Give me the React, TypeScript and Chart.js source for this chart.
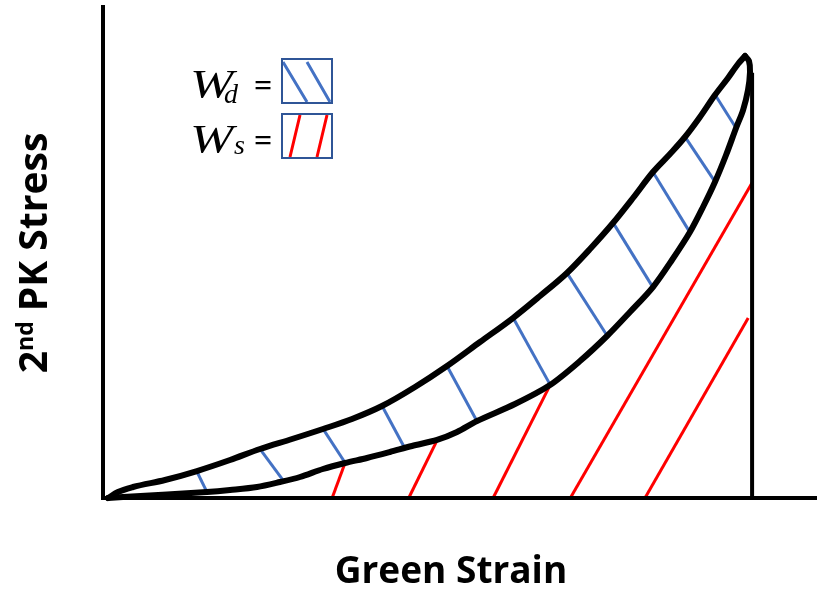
import React, { useEffect, useRef } from "react";
import { Chart, registerables } from "chart.js";

Chart.register(...registerables);

// Strain (x, relative to max strain = 100) and stress (y) values
const loadingStrain = [0.77, 2.31, 4.62, 9.55, 14.48, 19.57, 24.19, 29.12, 33.89, 38.36, 42.98, 48.07, 53.0, 58.08, 63.16, 67.32, 71.48, 75.03, 78.57, 81.65, 84.73, 87.35, 89.66, 91.97, 94.28, 96.29, 97.83, 98.91];
const loadingStress = [0, 1.36, 2.5, 4.09, 6.13, 8.63, 11.13, 13.4, 15.68, 17.95, 20.9, 25.22, 29.99, 35.44, 40.89, 45.89, 51.12, 56.57, 62.47, 68.15, 74.06, 78.15, 82.01, 86.56, 91.55, 95.42, 98.6, 100.41];

const unloadingStrain = [98.91, 99.52, 99.68, 99.37, 98.61, 97.53, 95.99, 94.28, 92.44, 90.43, 87.66, 84.73, 81.19, 77.65, 73.49, 68.87, 63.47, 57.62, 54.54, 51.46, 47.6, 44.22, 40.67, 37.28, 33.89, 30.35, 27.27, 23.73, 19.57, 16.02, 9.86, 3.08, 0.77];
const unloadingStress = [100.41, 99.28, 96.78, 92.69, 88.14, 84.06, 77.92, 71.79, 66.11, 60.43, 54.07, 47.93, 42.26, 36.8, 31.12, 25.67, 21.35, 17.49, 14.99, 13.18, 11.81, 10.45, 9.09, 7.95, 6.59, 4.77, 3.63, 2.5, 1.82, 1.36, 0.8, 0.23, 0];

// Dissipated-energy hatch segments (x1, y1, x2, y2)
const dissipatedHatch = [
  [14.5, 5.9, 16.0, 1.4],
  [24.2, 11.1, 27.7, 4.1],
  [33.9, 15.7, 37.3, 8.0],
  [43.0, 20.9, 46.5, 11.3],
  [53.0, 30.0, 57.6, 17.5],
  [63.2, 40.9, 68.9, 25.7],
  [71.5, 51.1, 77.7, 36.8],
  [78.6, 62.5, 84.7, 47.9],
  [84.7, 74.1, 90.4, 60.4],
  [89.7, 82.0, 94.3, 71.8],
  [94.3, 91.6, 97.5, 84.1],
];

// Stored-energy hatch segments (x1, y1, x2, y2)
const storedHatch = [
  [37.3, 8.0, 35.3, 0],
  [51.5, 13.2, 47.1, 0],
  [68.9, 25.7, 60.1, 0],
  [100, 71.6, 72.0, 0],
  [99.4, 40.9, 83.5, 0],
];

const maxStrain = 100;
const maxStrainStress = 96.6;

const xTitle = "Green Strain";
const yTitleMain = "2";
const yTitleSup = "nd";
const yTitleRest = " PK Stress";

const BLUE = "#4472C4";
const RED = "#FF0000";
const BOX = "#2F5597";
const TITLE_FONT = "'Open Sans'";

const zip = (xs: number[], ys: number[]) => xs.map((x, i) => ({ x, y: ys[i] }));

const overlayPlugin = {
  id: "overlay",
  afterDatasetsDraw(chart: any) {
    const { ctx, chartArea } = chart;
    const { left, right, bottom, top } = chartArea;
    ctx.save();
    // axis lines
    ctx.strokeStyle = "#000";
    ctx.lineWidth = 4;
    ctx.lineCap = "butt";
    ctx.beginPath();
    ctx.moveTo(left, top);
    ctx.lineTo(left, bottom + 2);
    ctx.moveTo(left - 2, bottom);
    ctx.lineTo(right, bottom);
    ctx.stroke();

    // x title
    ctx.fillStyle = "#000";
    ctx.textBaseline = "alphabetic";
    ctx.textAlign = "center";
    ctx.font = `bold 37px ${TITLE_FONT}`;
    ctx.fillText(xTitle, 451, 583);

    // y title (rotated)
    ctx.save();
    ctx.translate(47, 253);
    ctx.rotate(-Math.PI / 2);
    ctx.textAlign = "left";
    const big = `bold 39px ${TITLE_FONT}`;
    const small = `bold 23px ${TITLE_FONT}`;
    ctx.font = big;
    const w1 = ctx.measureText(yTitleMain).width;
    const w3 = ctx.measureText(yTitleRest).width;
    ctx.font = small;
    const w2 = ctx.measureText(yTitleSup).width;
    const total = w1 + w2 + w3;
    let x0 = -total / 2;
    ctx.font = big;
    ctx.fillText(yTitleMain, x0, 0);
    x0 += w1;
    ctx.font = small;
    ctx.fillText(yTitleSup, x0, -14);
    x0 += w2;
    ctx.font = big;
    ctx.fillText(yTitleRest, x0, 0);
    ctx.restore();

    // legend
    const bx = left + 179;
    const drawEntry = (by: number, sub: string, subX: number, subDy: number, color: string, lines: number[][]) => {
      ctx.fillStyle = "#000";
      ctx.textAlign = "left";
      ctx.font = "italic 40px 'Liberation Serif'";
      ctx.save();
      ctx.translate(bx - 92, by + 38);
      ctx.scale(1.3, 1);
      ctx.fillText("W", 0, 0);
      ctx.restore();
      ctx.font = "italic 28px 'Liberation Serif'";
      ctx.fillText(sub, bx + subX, by + subDy);
      ctx.font = "bold 32px 'Liberation Serif'";
      ctx.fillText("=", bx - 28, by + 37);
      ctx.strokeStyle = color;
      ctx.lineWidth = 3;
      ctx.beginPath();
      for (const l of lines) {
        ctx.moveTo(bx + l[0], by + l[1]);
        ctx.lineTo(bx + l[2], by + l[3]);
      }
      ctx.stroke();
      ctx.strokeStyle = BOX;
      ctx.lineWidth = 2;
      ctx.strokeRect(bx, by, 50, 44);
    };
    drawEntry(59, "d", -58, 44, BLUE, [
      [1, 3, 25, 43],
      [25, 3, 48, 43],
    ]);
    drawEntry(114, "s", -48, 40, RED, [
      [18, 1, 8, 43],
      [45, 1, 35, 43],
    ]);
    ctx.restore();
  },
};

export default function App() {
  const ref = useRef<HTMLCanvasElement>(null);
  useEffect(() => {
    if (!ref.current) return;
    const seg = (s: number[], color: string) => ({
      data: [
        { x: s[0], y: s[1] },
        { x: s[2], y: s[3] },
      ],
      borderColor: color,
      borderWidth: 3,
      showLine: true,
      pointRadius: 0,
      clip: false as any,
    });
    const curve = (data: any[], extra: any) => ({
      data,
      borderColor: "#000",
      borderWidth: 6,
      showLine: true,
      pointRadius: 0,
      borderCapStyle: "round" as const,
      borderJoinStyle: "round" as const,
      clip: false as any,
      ...extra,
    });
    const chart = new Chart(ref.current, {
      type: "scatter",
      data: {
        datasets: [
          curve(zip(loadingStrain, loadingStress), { cubicInterpolationMode: "monotone" }),
          curve(zip(unloadingStrain, unloadingStress), { tension: 0.3 }),
          {
            data: [
              { x: maxStrain, y: maxStrainStress },
              { x: maxStrain, y: 0 },
            ],
            borderColor: "#000",
            borderWidth: 4,
            showLine: true,
            pointRadius: 0,
            clip: false as any,
          },
          ...dissipatedHatch.map((s) => seg(s, BLUE)),
          ...storedHatch.map((s) => seg(s, RED)),
        ],
      },
      options: {
        responsive: false,
        animation: false,
        layout: { padding: { left: 103, right: 0, top: 5, bottom: 96 } },
        plugins: { legend: { display: false }, tooltip: { enabled: false } },
        scales: {
          x: { type: "linear", min: 0, max: 110, display: false },
          y: { type: "linear", min: 0, max: 112, display: false },
        },
      },
      plugins: [overlayPlugin],
    });
    return () => chart.destroy();
  }, []);
  return (
    <div style={{ position: "absolute", left: 0, top: 0, width: 817, height: 594 }}>
      <canvas ref={ref} width={817} height={594} />
    </div>
  );
}
